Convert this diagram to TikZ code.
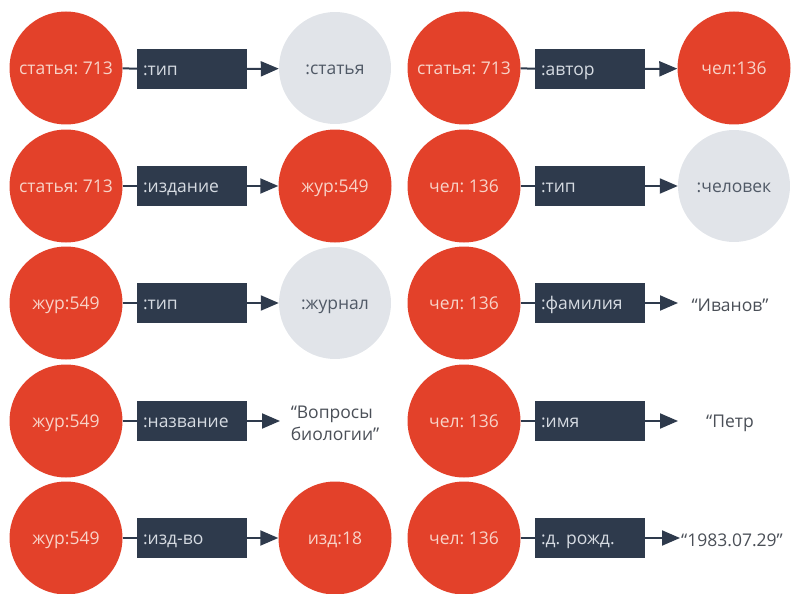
\documentclass[tikz,border=0pt]{standalone}
\usepackage{fontspec}
\setmainfont{Open Sans}
\usetikzlibrary{arrows.meta}
\definecolor{nodered}{HTML}{E3412A}
\definecolor{darkbox}{HTML}{2E3A4C}
\definecolor{greyc}{HTML}{E1E4E9}
\definecolor{redtext}{HTML}{F8D3C8}
\definecolor{boxtext}{HTML}{D6DBE2}
\definecolor{greytext}{HTML}{505966}
\definecolor{littext}{HTML}{4A4F57}
\frenchspacing
\begin{document}
\begin{tikzpicture}[x=1pt,y=-1pt,
  font=\fontsize{17.5}{22}\selectfont,
  redc/.style={circle,fill=nodered,minimum size=113pt,inner sep=0pt,text=redtext,text height=14pt,text depth=0.5pt},
  greycirc/.style={circle,fill=greyc,minimum size=112pt,inner sep=0pt,text=greytext,text height=14pt,text depth=0.5pt},
  pred/.style={rectangle,fill=darkbox,minimum width=110pt,minimum height=40pt,inner sep=0pt,text=boxtext,text width=98pt,align=left,text height=14pt,text depth=0.5pt},
  lit/.style={text=littext,inner sep=0pt},
  conn/.style={draw=darkbox,line width=2pt},
  arr/.style={draw=darkbox,line width=2pt,-{Triangle[length=18pt,width=15pt]}}
]
\useasboundingbox (0,0) rectangle (796,594);
% ---- left column ----
\node[redc] (s1) at (66,68) {статья: 713};
\node[pred] (p1) at (192,69) {:тип};
\node[greycirc] (o1) at (335,68) {:статья};
\node[redc] (s2) at (66,186) {статья: 713};
\node[pred] (p2) at (192,186) {:издание};
\node[redc] (o2) at (335,186) {жур:549};
\node[redc] (s3) at (66,303) {жур:549};
\node[pred] (p3) at (192,303) {:тип};
\node[greycirc] (o3) at (335,303) {:журнал};
\node[redc] (s4) at (66,421) {жур:549};
\node[pred] (p4) at (192,421) {:название};
\node[lit,align=left] (o4) at (335,423) {“Вопросы\\биологии”};
\coordinate (t4) at (280,421);
\node[redc] (s5) at (66,538) {жур:549};
\node[pred] (p5) at (192,538) {:изд-во};
\node[redc] (o5) at (335,538) {изд:18};
% ---- right column ----
\node[redc] (s6) at (464,68) {статья: 713};
\node[pred] (p6) at (590,69) {:автор};
\node[redc] (o6) at (734,68) {чел:136};
\node[redc] (s7) at (464,186) {чел: 136};
\node[pred] (p7) at (590,186) {:тип};
\node[greycirc] (o7) at (734,186) {:человек};
\node[redc] (s8) at (464,303) {чел: 136};
\node[pred] (p8) at (590,303) {:фамилия};
\node[lit] (o8) at (730,305) {“Иванов”};
\coordinate (t8) at (678,303);
\node[lit,anchor=west] (o9) at (706,423) {“Петр};
\node[redc] (s9) at (464,421) {чел: 136};
\node[pred] (p9) at (590,421) {:имя};
\coordinate (t9) at (678,421);
\node[redc] (s10) at (464,538) {чел: 136};
\node[pred] (p10) at (590,538) {:д. рожд.};
\node[lit,anchor=west] (o10) at (681,540) {“1983.07.29”};
\coordinate (t10) at (680,538);
% ---- connectors ----
\foreach \i in {1,...,10} {\draw[conn] (s\i) -- (p\i);}
\foreach \i in {1,2,3,5,6,7} {\draw[arr] (p\i.east) -- (o\i);}
\draw[arr] (p4.east) -- (t4);
\draw[arr] (p8.east) -- (t8);
\draw[arr] (p9.east) -- (t9);
\draw[arr] (p10.east) -- (t10);
\end{tikzpicture}
\end{document}
